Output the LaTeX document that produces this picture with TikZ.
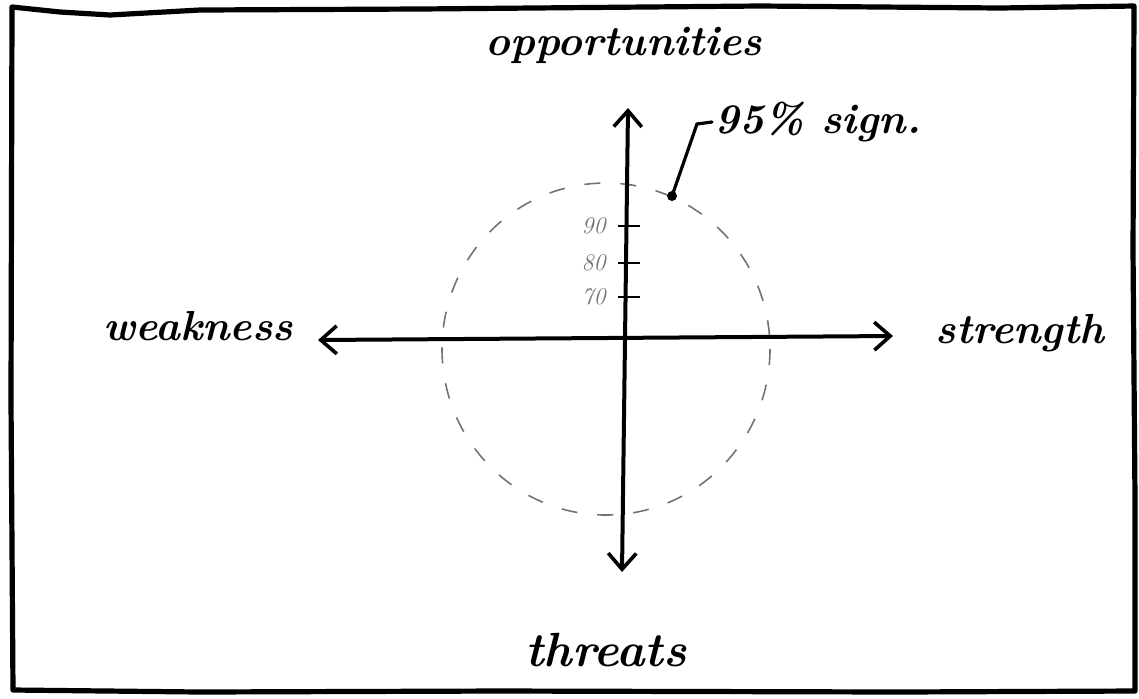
\documentclass[tikz,border=0pt]{standalone}
\usepackage{tikz}
\usetikzlibrary{arrows.meta}

\begin{document}
\begin{tikzpicture}[x=0.5pt,y=-0.5pt,font=\fontsize{21}{25}\selectfont\bfseries\itshape,
  barb/.tip={Straight Barb[length=8pt,width=14pt,line width=1.8pt]},
  axis/.style={line width=2pt,line cap=round,barb-barb},
  tick/.style={line width=0.9pt},
  ticklabel/.style={font=\fontsize{12}{14}\selectfont\itshape,text=black!55,anchor=east,inner sep=1pt}]
  \useasboundingbox (0,0) rectangle (1139,698);
  % frame, drawn by hand
  \draw[line width=2.6pt,line join=round] (12,7) -- (60,12) -- (110,15) -- (200,10) -- (420,9)
    -- (760,6) -- (1000,8) -- (1134,6) -- (1133,250) -- (1135,500) -- (1135,691)
    -- (900,692) -- (500,691) -- (200,692) -- (13,690) -- (11,400) -- cycle;
  % 95% circle
  \draw[black!55,line width=0.8pt,dash pattern=on 8pt off 10pt] (606,349) ellipse [x radius=164,y radius=166];
  % axes
  \coordinate (w) at (318,340);
  \coordinate (s) at (893,336);
  \coordinate (o) at (628,108);
  \coordinate (t) at (622,572);
  \draw[axis] (w) -- (s);
  \draw[axis] (o) -- (t);
  \foreach \v/\y in {90/226,80/263,70/297}{
    \draw[tick] (618,\y) -- (640,\y);
    \node[ticklabel] (lab\v) at (608,\y) {\v};
  }
  \node (opp) at (624,45) {opportunities};
  \node[font=\fontsize{24}{28}\selectfont\bfseries\itshape] (thr) at (606,650) {threats};
  \node (weak) at (198,326) {weakness};
  \node (str) at (1020,333) {strength};
  % significance marker
  \fill (672,196) circle (5) coordinate (sig);
  \node[anchor=west,inner sep=1pt] (signote) at (712,122) {95\% sign.};
  \draw[line width=1.6pt,line cap=round] (sig) -- (697,124) -- (signote.west);
\end{tikzpicture}
\end{document}
